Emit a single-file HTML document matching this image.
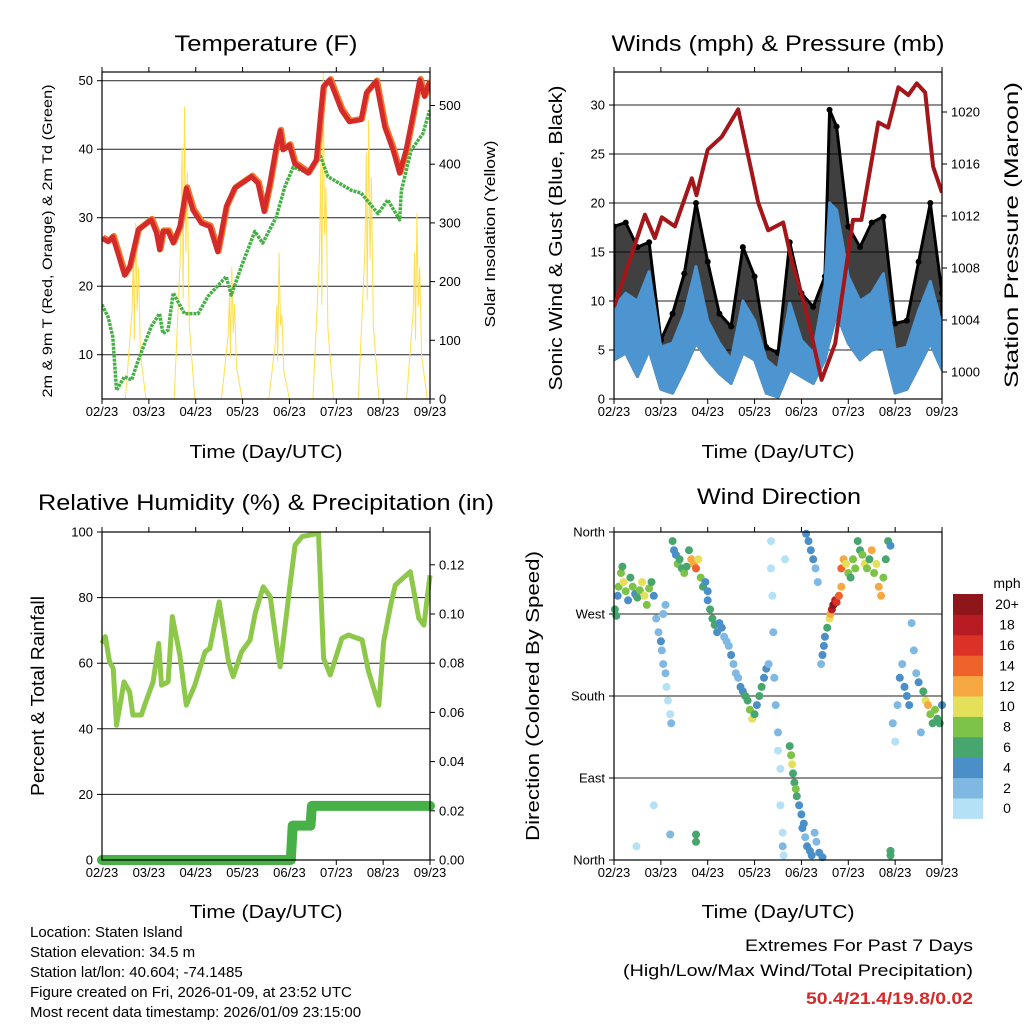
<!DOCTYPE html>
<html><head><meta charset="utf-8"><style>
html,body{margin:0;padding:0;background:#fff;}
svg{display:block;font-family:"Liberation Sans",sans-serif;}
</style></head><body>
<svg id="chart" width="1024" height="1024" viewBox="0 0 1024 1024" xmlns="http://www.w3.org/2000/svg"></svg>
<script>
// ---------- shared ----------
const xTickLabels = ['02/23','03/23','04/23','05/23','06/23','07/23','08/23','09/23'];
// ---------- panel 1: temperature ----------
const tempDay = [0,0.13,0.23,0.34,0.48,0.59,0.77,1.05,1.16,1.23,1.3,1.41,1.52,1.66,1.8,1.94,2.12,2.3,2.47,2.65,2.83,3.19,3.33,3.46,3.58,3.72,3.8,3.86,4.0,4.11,4.4,4.57,4.72,4.86,5.11,5.28,5.53,5.64,5.85,6.03,6.21,6.35,6.49,6.64,6.78,6.88,6.99];
const tempVal = [27.0,26.5,27.2,24.8,21.6,22.8,28.2,29.7,27.8,25.3,28.0,28.0,26.3,28.7,34.3,31.1,29.2,28.7,25.0,31.6,34.3,36.0,35.0,30.9,35.0,40.4,42.7,39.9,40.6,37.9,36.5,38.4,49.1,50.1,45.7,44.0,44.3,48.2,49.9,43.3,39.9,36.5,39.9,45.2,50.1,47.7,49.9];
const dewDay = [0,0.13,0.23,0.31,0.48,0.63,0.8,1.05,1.23,1.3,1.41,1.52,1.76,2.05,2.26,2.65,2.76,2.97,3.26,3.43,3.72,3.9,4.08,4.4,4.64,4.82,5.32,5.53,5.89,6.1,6.35,6.39,6.6,6.85,6.99];
const dewVal = [17.3,15.5,12.6,4.8,6.8,6.3,9.7,14.1,16.0,13.1,13.6,19.0,16.0,16.0,18.5,21.4,18.7,22.8,28.0,26.3,30.1,34.5,37.4,36.5,39.4,36.0,34.0,33.6,30.6,32.6,29.7,34.0,39.9,42.3,45.7];
const solarDay = [0.72,1.76,2.77,3.78,4.72,5.69,6.72];
const solarPeak = [300,498,225,250,560,475,316];
const solarPeak2 = [250,430,180,160,400,420,250];
const tempTicks = [10,20,30,40,50];
const solarTicks = [0,100,200,300,400,500];
// ---------- panel 2: winds ----------
const windDay = [0,0.25,0.5,0.75,1.0,1.25,1.5,1.75,2.0,2.25,2.5,2.75,3.0,3.25,3.5,3.75,4.0,4.25,4.5,4.6,4.75,5.0,5.25,5.5,5.75,6.0,6.25,6.5,6.75,7.0];
const windHi = [9.4,10.8,10,13,5.3,5.7,8.7,13.5,8,5.7,4,10,8,4,3,9.8,6,4.7,11.5,20,19.3,12.5,10,10.8,12.8,5,5.3,9,12,7.4];
const windLo = [4,4.7,2.3,5,1,0.6,3,5.7,4,2.6,1.6,4.7,4,0.6,0.2,3,2.3,1.6,4,6,8.7,5.7,4,5,5.3,0.6,1,3.3,5.7,3];
const gustHi = [17.6,18,15.5,16,6,8.7,12.8,20,14,8.7,7.4,15.5,12.5,5.3,4.7,16,10.8,9.4,12.5,29.5,27.8,17.6,15.5,18,18.6,7.7,8,14,20,10.8];
const presDay = [0,0.66,0.87,1.02,1.3,1.66,1.76,2.0,2.3,2.65,3.08,3.29,3.61,3.79,4.08,4.43,4.72,5.1,5.28,5.64,5.85,6.07,6.28,6.46,6.64,6.81,7.0];
const presVal = [1005.0,1012.1,1010.3,1011.9,1011.2,1014.9,1013.6,1017.1,1018.1,1020.2,1013.0,1010.9,1011.5,1008.6,1005.0,999.4,1002.2,1011.7,1011.7,1019.2,1018.8,1021.9,1021.3,1022.2,1021.5,1015.8,1013.8];
const windTicks = [0,5,10,15,20,25,30];
const presTicks = [1000,1004,1008,1012,1016,1020];
// ---------- panel 3: humidity / precip ----------
const rhDay = [0,0.07,0.16,0.24,0.31,0.47,0.59,0.66,0.84,0.91,1.09,1.21,1.27,1.41,1.5,1.66,1.8,1.98,2.2,2.3,2.5,2.7,2.8,2.98,3.16,3.27,3.44,3.59,3.73,3.8,3.91,4.02,4.12,4.27,4.62,4.73,4.87,5.12,5.26,5.55,5.69,5.91,6.01,6.16,6.26,6.41,6.58,6.76,6.87,7.0];
const rhVal = [66.0,68.1,60.5,58.4,41.1,54.3,51.3,44.2,44.2,47.2,54.3,66.0,53.3,54.3,74.2,62.5,47.2,53.3,63.5,64.5,78.7,60.5,55.9,63.5,67.1,75.2,83.3,80.3,65.5,58.9,71.6,84.8,96.0,98.6,99.6,61.5,56.4,67.6,68.6,67.1,57.4,47.2,66.5,77.7,83.8,85.8,87.9,73.7,71.6,86.8];
const rainDay = [0,4.03,4.07,4.45,4.48,7];
const rainVal = [0,0,0.014,0.014,0.022,0.022];
const rhTicks = [0,20,40,60,80,100];
const rainTicks = [0,0.02,0.04,0.06,0.08,0.10,0.12];
// ---------- panel 4: wind direction ----------
const wdDay = [0.02,0.05,0.08,0.1,0.15,0.18,0.2,0.25,0.3,0.35,0.4,0.45,0.5,0.55,0.6,0.65,0.7,0.75,0.8,0.85,
 0.9,0.95,1.0,1.02,1.05,1.1,1.12,1.15,1.2,1.22,1.05,1.1,0.48,0.85,
 1.25,1.28,1.32,1.36,1.4,1.45,1.5,1.55,1.6,1.65,1.7,1.75,1.8,1.85,1.9,1.95,2.0,1.75,1.75,1.2,
 2.0,2.05,2.1,2.15,2.2,2.25,2.3,2.35,2.4,
 2.45,2.5,2.55,2.6,2.65,2.7,2.75,2.8,
 2.85,2.9,2.95,3.0,3.05,3.1,3.15,3.2,3.25,3.3,
 3.35,3.35,3.38,3.4,3.42,3.45,3.5,3.5,3.55,3.55,3.6,3.6,3.62,3.65,
 3.75,3.78,3.8,3.82,3.85,3.88,3.9,3.95,4.0,4.05,
 4.02,4.08,4.12,4.18,4.22,4.28,4.32,4.38,4.45,
 4.1,4.15,4.2,4.25,4.3,4.35,
 4.42,4.45,4.48,4.5,4.55,
 4.6,4.62,4.65,4.68,4.72,4.75,4.8,4.85,
 4.85,4.9,4.95,5.0,5.05,5.1,5.15,
 5.2,5.25,5.3,5.35,5.4,5.45,5.5,5.55,5.6,5.65,5.7,5.75,5.8,5.85,5.9,5.9,5.9,
 5.95,6.0,6.05,6.1,6.15,6.2,6.25,6.3,6.35,6.4,6.45,6.5,6.55,6.6,6.65,6.7,6.75,6.8,6.85,6.9,6.95,7.0];
const wdDir = [275,268,290,300,315,322,305,295,285,310,300,292,288,296,305,290,280,298,305,290,
 265,250,240,230,215,205,190,175,160,150,270,280,15,60,
 350,340,335,325,330,320,315,322,340,330,325,320,330,310,300,305,295,20,28,28,
 285,275,265,258,250,260,255,245,240,
 235,225,215,205,200,190,185,180,
 175,165,155,160,170,180,190,200,210,215,
 350,320,290,250,200,170,140,120,100,60,30,15,5,330,
 125,115,105,95,85,78,70,60,50,40,
 35,25,15,10,5,30,20,8,3,
 358,350,340,330,320,305,
 215,225,235,245,255,
 265,270,275,280,285,283,290,300,
 320,330,325,315,310,330,320,
 350,340,335,325,320,330,340,315,325,300,290,310,330,350,345,5,10,
 150,130,170,200,215,190,180,170,260,230,205,195,140,185,175,170,160,150,165,155,150,170];
const wdSpd = [7,6,4,8,8,7,10,9,5,6,8,4,6,8,10,10,9,8,7,4,
 3,2,4,3,2,2,1,1,1,2,2,3,1,1,
 6,4,4,8,7,6,8,6,7,12,13,14,10,8,6,5,4,6,6,3,
 5,6,6,6,5,4,4,3,3,
 3,4,3,2,3,4,5,6,
 7,8,10,6,5,6,7,5,4,3,
 1,1,1,2,2,2,2,1,1,1,1,2,1,1,
 7,8,10,6,7,8,7,5,4,4,
 4,3,5,4,4,3,2,5,4,
 4,4,5,4,3,2,
 3,4,4,5,6,
 10,12,18,20,19,16,14,12,
 14,12,10,8,6,9,8,
 6,7,8,10,8,7,12,8,10,13,12,8,6,7,5,6,6,
 2,1,3,4,3,4,5,4,2,2,3,4,2,6,10,12,8,7,9,6,7,5];
const dirTickLabels = ['North','East','South','West','North'];
const dirTickDeg = [0,90,180,270,360];
const legendLabels = ['0','2','4','6','8','10','12','14','16','18','20+'];
const legendColors = ['#b4e1f6','#7fb9e3','#4a8fc7','#47a56e','#7cc348','#e5e05a','#f6a842','#f0622b','#db3127','#b81c22','#8e1519'];

// ---------- helpers ----------
const NS = 'http://www.w3.org/2000/svg';
const svg = document.getElementById('chart');
function mk(tag, attrs, parent){
  const el = document.createElementNS(NS, tag);
  for (const k in attrs) el.setAttribute(k, attrs[k]);
  (parent || svg).appendChild(el);
  return el;
}
function txt(s, attrs, parent){
  const el = mk('text', attrs, parent);
  el.textContent = s;
  return el;
}
function xScale(x0){ return d => x0 + d * 46.86; }

function frame(x0, y0, x1, y1, name){
  const g = mk('g', {});
  
  
  const xs = xScale(x0);
  for (let i = 0; i < xTickLabels.length; i++){
    const x = xs(i);
    const t1 = mk('line', {x1:x, y1:y1, x2:x, y2:y1+5, stroke:'#000','stroke-width':1}, g);
    
    
    const t2 = mk('line', {x1:x, y1:y0, x2:x, y2:y0-5, stroke:'#000','stroke-width':1}, g);
    
    
    const lb = txt(xTickLabels[i], {x:x, y:y1+17, 'font-size':13, 'text-anchor':'middle'}, g);
    
    
  }
  return g;
}
function box(x0,y0,x1,y1,g){
  const r = mk('rect', {x:x0, y:y0, width:x1-x0, height:y1-y0, fill:'none', stroke:'#000', 'stroke-width':1.2}, g);
  
  
}
function grid(x0,x1,y,g){
  const l = mk('line', {x1:x0, y1:y, x2:x1, y2:y, stroke:'#222', 'stroke-width':1}, g);
  
  
}
function yTick(x, y, dir, label, g, name){
  const l = mk('line', {x1:x, y1:y, x2:x+dir*5, y2:y, stroke:'#000','stroke-width':1}, g);
  
  
  const t = txt(label, {x:x+dir*9, y:y+4.5, 'font-size':13, 'text-anchor': dir<0 ? 'end' : 'start'}, g);
  
  
}
function title(s, cx, cy, len, name){
  const t = txt(s, {x:cx, y:cy, 'font-size':22, 'text-anchor':'middle', textLength:len, lengthAdjust:'spacingAndGlyphs'});
  
  
}
function vtitle(s, cx, cy, len, fs, name){
  const t = txt(s, {x:cx, y:cy, 'font-size':fs, 'text-anchor':'middle', textLength:len, lengthAdjust:'spacingAndGlyphs', transform:'rotate(-90 '+cx+' '+cy+')'});
  
  
}
function pts(days, vals, xs, ys){
  return days.map((d,i) => xs(d).toFixed(1) + ',' + ys(vals[i]).toFixed(1)).join(' ');
}
function clip(id, x0,y0,x1,y1){
  const defs = mk('defs', {});
  const c = mk('clipPath', {id:id}, defs);
  mk('rect', {x:x0, y:y0, width:x1-x0, height:y1-y0}, c);
}

// ================= PANEL 1 =================
(function(){
  const X0=102, X1=430, Y0=72, Y1=399;
  const xs = xScale(X0);
  const yT = v => 423.2 - v*6.85;
  const yS = v => 399 - v*0.587;
  const g = frame(X0,Y0,X1,Y1,'temperature-panel');
  clip('c1', X0, Y0, X1, Y1);
  tempTicks.forEach(v => { grid(X0, X1, yT(v), g); yTick(X0, yT(v), -1, String(v), g, 'temp-axis'); });
  solarTicks.forEach(v => yTick(X1, yS(v), 1, String(v), g, 'solar-axis'));
  const dg = mk('g', {'clip-path':'url(#c1)'}, g);
  solarDay.forEach((d,i) => {
    const p = [[d-0.22,0],[d-0.08,solarPeak2[i]*0.6],[d-0.05,solarPeak2[i]],[d-0.03,solarPeak2[i]*0.4],[d,solarPeak[i]],[d+0.03,solarPeak[i]*0.5],[d+0.06,solarPeak2[i]*0.9],[d+0.1,solarPeak2[i]*0.3],[d+0.22,0]];
    const s = mk('polyline', {points:p.map(q => xs(q[0]).toFixed(1)+','+yS(q[1]).toFixed(1)).join(' '), fill:'none', stroke:'#ffdf50', 'stroke-width':1}, dg);
    
    
  });
  const dew = mk('polyline', {points:pts(dewDay, dewVal, xs, yT), fill:'none', stroke:'#45b045', 'stroke-width':3.5, 'stroke-dasharray':'3 1', 'stroke-linejoin':'round'}, dg);
  
  
  const t9 = mk('polyline', {points:pts(tempDay, tempVal, xs, yT), fill:'none', stroke:'#f07a2a', 'stroke-width':6, 'stroke-linejoin':'round', transform:'translate(1,-1)'}, dg);
  
  
  const t2 = mk('polyline', {points:pts(tempDay, tempVal, xs, yT), fill:'none', stroke:'#d42a2a', 'stroke-width':5, 'stroke-linejoin':'round'}, dg);
  
  
  box(X0,Y0,X1,Y1,g);
  title('Temperature (F)', 266, 51, 183, 'temperature-title');
  vtitle('2m & 9m T (Red, Orange) & 2m Td (Green)', 52, 241, 313, 14, 'temperature-y-title');
  vtitle('Solar Insolation (Yellow)', 495, 234, 187, 15, 'solar-y-title');
  const xt = txt('Time (Day/UTC)', {x:266, y:458, 'font-size':18, 'text-anchor':'middle', textLength:153, lengthAdjust:'spacingAndGlyphs'});
  
  
})();

// ================= PANEL 2 =================
(function(){
  const X0=614, X1=942, Y0=72, Y1=399;
  const xs = xScale(X0);
  const yW = v => 399 - v*9.8;
  const yP = v => 372 - (v-1000)*13;
  const g = frame(X0,Y0,X1,Y1,'winds-panel');
  clip('c2', X0, Y0, X1, Y1);
  windTicks.forEach(v => { if (v>0) grid(X0, X1, yW(v), g); yTick(X0, yW(v), -1, String(v), g, 'wind-axis'); });
  presTicks.forEach(v => yTick(X1, yP(v), 1, String(v), g, 'pressure-axis'));
  const dg = mk('g', {'clip-path':'url(#c2)'}, g);
  const gustPoly = windDay.map((d,i)=>xs(d).toFixed(1)+','+yW(gustHi[i]).toFixed(1)).join(' ') + ' ' +
    windDay.slice().reverse().map((d,j)=>{const i=windDay.length-1-j; return xs(d).toFixed(1)+','+yW(windLo[i]).toFixed(1);}).join(' ');
  const gp = mk('polygon', {points:gustPoly, fill:'#000', stroke:'#000', 'stroke-width':3, 'stroke-linejoin':'round', 'fill-opacity':0.75}, dg);
  
  
  windDay.forEach((d,i) => {
    const c = mk('circle', {cx:xs(d), cy:yW(gustHi[i]), r:3, fill:'#000'}, dg);
    
    
  });
  const windPoly = windDay.map((d,i)=>xs(d).toFixed(1)+','+yW(windHi[i]).toFixed(1)).join(' ') + ' ' +
    windDay.slice().reverse().map((d,j)=>{const i=windDay.length-1-j; return xs(d).toFixed(1)+','+yW(windLo[i]).toFixed(1);}).join(' ');
  const wp = mk('polygon', {points:windPoly, fill:'#4d95d0', stroke:'#4d95d0', 'stroke-width':3, 'stroke-linejoin':'round'}, dg);
  
  
  const pl = mk('polyline', {points:pts(presDay, presVal, xs, yP), fill:'none', stroke:'#a3161a', 'stroke-width':4, 'stroke-linejoin':'round'}, dg);
  
  
  box(X0,Y0,X1,Y1,g);
  title('Winds (mph) & Pressure (mb)', 778, 51, 333, 'winds-title');
  vtitle('Sonic Wind & Gust (Blue, Black)', 562, 238, 305, 18, 'wind-y-title');
  vtitle('Station Pressure (Maroon)', 1018, 235, 306, 19, 'pressure-y-title');
  const xt = txt('Time (Day/UTC)', {x:778, y:458, 'font-size':18, 'text-anchor':'middle', textLength:153, lengthAdjust:'spacingAndGlyphs'});
  
  
})();

// ================= PANEL 3 =================
(function(){
  const X0=102, X1=430, Y0=532, Y1=860;
  const xs = xScale(X0);
  const yH = v => 860 - v*3.28;
  const yR = v => 860 - v*2460;
  const g = frame(X0,Y0,X1,Y1,'humidity-panel');
  clip('c3', X0-8, Y0, X1+8, Y1+8);
  rhTicks.forEach(v => { if (v>0 && v<100) grid(X0, X1, yH(v), g); yTick(X0, yH(v), -1, String(v), g, 'humidity-axis'); });
  rainTicks.forEach(v => yTick(X1, yR(v), 1, v.toFixed(2), g, 'rain-axis'));
  const dg = mk('g', {'clip-path':'url(#c3)'}, g);
  const rh = mk('polyline', {points:pts(rhDay, rhVal, xs, yH), fill:'none', stroke:'#8dc84a', 'stroke-width':5, 'stroke-linejoin':'round'}, dg);
  
  
  const rn = mk('polyline', {points:pts(rainDay, rainVal, xs, yR), fill:'none', stroke:'#47b047', 'stroke-width':10, 'stroke-linecap':'round', 'stroke-linejoin':'round'}, dg);
  
  
  box(X0,Y0,X1,Y1,g);
  title('Relative Humidity (%) & Precipitation (in)', 266, 510, 456, 'humidity-title');
  vtitle('Percent & Total Rainfall', 44, 696, 200, 18, 'humidity-y-title');
  const xt = txt('Time (Day/UTC)', {x:266, y:918, 'font-size':18, 'text-anchor':'middle', textLength:153, lengthAdjust:'spacingAndGlyphs'});
  
  
})();

// ================= PANEL 4 =================
(function(){
  const X0=614, X1=942, Y0=532, Y1=860;
  const xs = xScale(X0);
  const yD = v => 860 - v*328/360;
  const g = frame(X0,Y0,X1,Y1,'wind-direction-panel');
  dirTickDeg.forEach((v,i) => { if (v>0 && v<360) grid(X0, X1, yD(v), g); yTick(X0, yD(v), -1, dirTickLabels[i], g, 'direction-axis'); });
  const dg = mk('g', {}, g);
  wdDay.forEach((d,i) => {
    const bin = Math.min(10, Math.floor(wdSpd[i]/2));
    const c = mk('circle', {cx:xs(d).toFixed(1), cy:yD(wdDir[i]).toFixed(1), r:4, fill:legendColors[bin]}, dg);
    
    
  });
  box(X0,Y0,X1,Y1,g);
  const lg = mk('g', {});
  
  
  const lt = txt('mph', {x:1007, y:588, 'font-size':14, 'text-anchor':'middle'}, lg);
  
  
  const bh = 20.4;
  legendColors.forEach((c,i) => {
    const y = 594 + (10-i)*bh;
    const r = mk('rect', {x:953, y:y, width:30, height:bh+0.5, fill:c}, lg);
    
    
    const t = txt(legendLabels[i], {x:1007, y:y+bh/2+5, 'font-size':14, 'text-anchor':'middle'}, lg);
    
    
  });
  title('Wind Direction', 779, 504, 164, 'direction-title');
  vtitle('Direction (Colored By Speed)', 539, 696, 290, 18, 'direction-y-title');
  const xt = txt('Time (Day/UTC)', {x:778, y:918, 'font-size':18, 'text-anchor':'middle', textLength:153, lengthAdjust:'spacingAndGlyphs'});
  
  
})();

// ================= footer text =================
const infoLines = ['Location: Staten Island','Station elevation: 34.5 m','Station lat/lon: 40.604; -74.1485','Figure created on Fri, 2026-01-09, at 23:52 UTC','Most recent data timestamp: 2026/01/09 23:15:00'];
infoLines.forEach((s,i) => {
  const t = txt(s, {x:30, y:937 + i*20, 'font-size':15});
  
  
});
const e1 = txt('Extremes For Past 7 Days', {x:973, y:951, 'font-size':17, 'text-anchor':'end', textLength:228, lengthAdjust:'spacingAndGlyphs'});


const e2 = txt('(High/Low/Max Wind/Total Precipitation)', {x:973, y:976, 'font-size':17, 'text-anchor':'end', textLength:350, lengthAdjust:'spacingAndGlyphs'});


const e3 = txt('50.4/21.4/19.8/0.02', {x:973, y:1004, 'font-size':17, 'font-weight':'bold', fill:'#d42a2a', 'text-anchor':'end', textLength:167, lengthAdjust:'spacingAndGlyphs'});


</script>
</body></html>
